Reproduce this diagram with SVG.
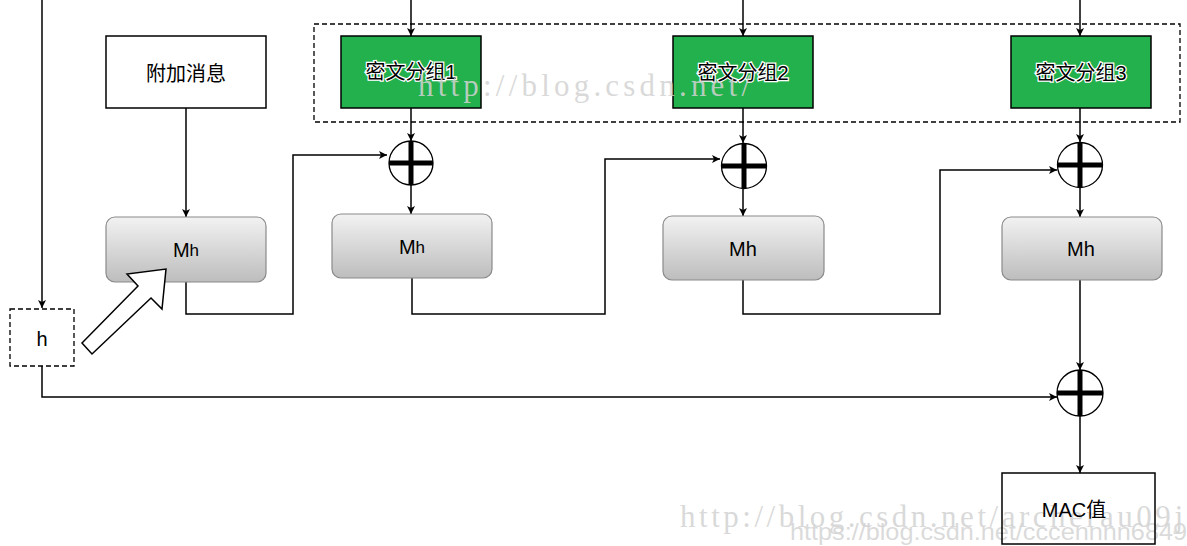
<svg xmlns="http://www.w3.org/2000/svg" width="1187" height="546" viewBox="0 0 1187 546">
<defs>
<style>
.ln{fill:none;stroke:#000;stroke-width:1.5}
.box{fill:#fff;stroke:#000;stroke-width:1.5}
.grn{fill:#22b14c;stroke:#000;stroke-width:1.5}
.mh{fill:url(#g);stroke:#8a8a8a;stroke-width:1.2}
.dash{fill:none;stroke:#000;stroke-width:1.3;stroke-dasharray:5 3}
.t{font-family:"Liberation Sans","Noto Sans CJK SC",sans-serif;font-size:20px;fill:#000;text-anchor:middle;dominant-baseline:central}
.tw{font-family:"Liberation Sans","Noto Sans CJK SC",sans-serif;font-size:20px;fill:#000;stroke:#fff;stroke-width:2.5;paint-order:stroke;text-anchor:middle;dominant-baseline:central}
.xc{fill:#fff;stroke:#000;stroke-width:1.3}
.xl{stroke:#000;stroke-width:5}
.wm{font-family:"Liberation Serif",serif;fill:#d2d2d2;fill-opacity:0.85}
.wm2{font-family:"Liberation Sans",sans-serif;fill:#d4d4d4;fill-opacity:0.85}
</style>
<linearGradient id="g" x1="0" y1="0" x2="0" y2="1">
<stop offset="0" stop-color="#f2f2f2"/>
<stop offset="1" stop-color="#bdbdbd"/>
</linearGradient>
<marker id="a" viewBox="0 0 10 10" refX="10" refY="5" markerWidth="8" markerHeight="8" markerUnits="userSpaceOnUse" orient="auto">
<path d="M0,0 L10,5 L0,10 L2.5,5 Z" fill="#000"/>
</marker>
</defs>
<rect width="1187" height="546" fill="#fff"/>

<g id="group-cipher">
<rect class="dash" x="314" y="24" width="866" height="98"/>
</g>

<g id="connectors">
<path class="ln" d="M42,0 V308" marker-end="url(#a)"/>
<path class="ln" d="M186,108 V217" marker-end="url(#a)"/>
<path class="ln" d="M186,282 V314 H293 V155 H387" marker-end="url(#a)"/>
<path class="ln" d="M411,0 V36" marker-end="url(#a)"/>
<path class="ln" d="M411,108 V141" marker-end="url(#a)"/>
<path class="ln" d="M411,185 V214" marker-end="url(#a)"/>
<path class="ln" d="M412,278 V314 H605 V159 H720" marker-end="url(#a)"/>
<path class="ln" d="M743,0 V36" marker-end="url(#a)"/>
<path class="ln" d="M743,108 V143" marker-end="url(#a)"/>
<path class="ln" d="M743,189 V216" marker-end="url(#a)"/>
<path class="ln" d="M743,280 V314 H940 V170 H1057" marker-end="url(#a)"/>
<path class="ln" d="M1080,0 V36" marker-end="url(#a)"/>
<path class="ln" d="M1080,108 V142" marker-end="url(#a)"/>
<path class="ln" d="M1080,188 V217" marker-end="url(#a)"/>
<path class="ln" d="M1080,280 V370" marker-end="url(#a)"/>
<path class="ln" d="M42,366 V397 H1057" marker-end="url(#a)"/>
<path class="ln" d="M1080,416 V473" marker-end="url(#a)"/>
</g>

<g id="node-fujia">
<rect class="box" x="106" y="36" width="160" height="72"/>
<text class="t" x="186" y="74">附加消息</text>
</g>

<g id="node-mh1">
<rect class="mh" x="106" y="217" width="160" height="65" rx="9"/>
<text class="t" x="186" y="250">M<tspan font-size="17">h</tspan></text>
</g>

<g id="node-h">
<rect class="dash" x="10" y="309" width="64" height="57" fill="#fff"/>
<text class="t" x="42" y="339">h</text>
</g>

<g id="node-c1">
<rect class="grn" x="341" y="36" width="140" height="72"/>
<text class="tw" x="411" y="72">密文分组1</text>
</g>
<g id="node-c2">
<rect class="grn" x="673" y="36" width="140" height="72"/>
<text class="tw" x="743" y="73">密文分组2</text>
</g>
<g id="node-c3">
<rect class="grn" x="1011" y="36" width="140" height="72"/>
<text class="tw" x="1081" y="73">密文分组3</text>
</g>

<g id="node-x1">
<circle class="xc" cx="411" cy="163" r="22"/>
<line class="xl" x1="411" y1="141" x2="411" y2="185"/>
<line class="xl" x1="389" y1="163" x2="433" y2="163"/>
</g>
<g id="node-x2">
<circle class="xc" cx="744" cy="166" r="22.5"/>
<line class="xl" x1="744" y1="143.5" x2="744" y2="188.5"/>
<line class="xl" x1="721.5" y1="166" x2="766.5" y2="166"/>
</g>
<g id="node-x3">
<circle class="xc" cx="1080" cy="165" r="22.5"/>
<line class="xl" x1="1080" y1="142.5" x2="1080" y2="187.5"/>
<line class="xl" x1="1057.5" y1="165" x2="1102.5" y2="165"/>
</g>
<g id="node-x4">
<circle class="xc" cx="1080" cy="393" r="23"/>
<line class="xl" x1="1080" y1="370" x2="1080" y2="416"/>
<line class="xl" x1="1057" y1="393" x2="1103" y2="393"/>
</g>

<g id="node-mh2">
<rect class="mh" x="332" y="214" width="160" height="64" rx="9"/>
<text class="t" x="412" y="247">M<tspan font-size="17">h</tspan></text>
</g>
<g id="node-mh3">
<rect class="mh" x="663" y="216" width="161" height="64" rx="9"/>
<text class="t" x="743" y="249">Mh</text>
</g>
<g id="node-mh4">
<rect class="mh" x="1002" y="217" width="160" height="63" rx="9"/>
<text class="t" x="1081" y="249">Mh</text>
</g>

<g id="hollow-arrow">
<polygon points="82,343 138,286 127,274 166,269 162,309 151,298 92,354" fill="#fff" stroke="#000" stroke-width="1.5" stroke-linejoin="miter"/>
</g>

<g id="watermarks">
<text class="wm" x="418" y="96" font-size="31" textLength="332" lengthAdjust="spacing">http://blog.csdn.net/</text>
<text class="wm" x="680" y="527" font-size="31" textLength="503" lengthAdjust="spacing">http://blog.csdn.net/archerau09j</text>
<text class="wm2" x="790" y="540" font-size="24" textLength="397" lengthAdjust="spacingAndGlyphs">https://blog.csdn.net/cccennnn6849</text>
</g>

<g id="node-mac">
<rect x="1002" y="473" width="153" height="71" style="fill:none;stroke:#000;stroke-width:1.5"/>
<text class="t" x="1074" y="510">MAC值</text>
</g>
</svg>
